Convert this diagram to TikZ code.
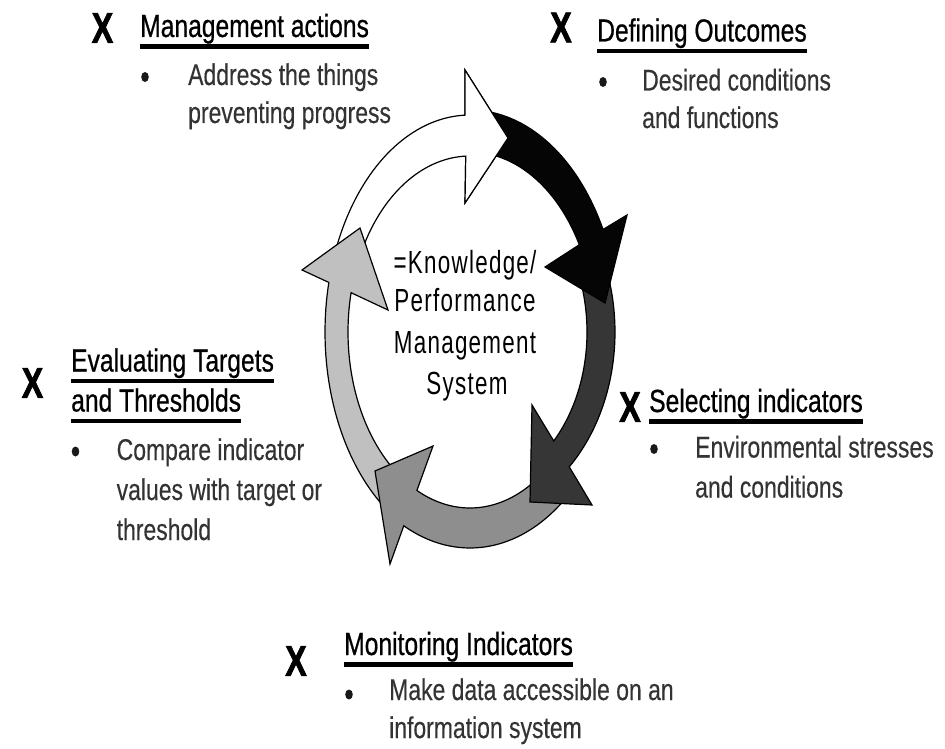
\documentclass[tikz,border=0pt]{standalone}
\usepackage{fontspec}
\setmainfont{Liberation Sans}
\newfontfamily\headfont[FakeStretch=0.77,FakeBold=0.6]{Liberation Sans}
\newfontfamily\bodyfont[FakeStretch=0.765,FakeBold=0.3]{Liberation Sans}
\newfontfamily\ctrfont[FakeStretch=0.70,LetterSpace=4]{Liberation Sans}
\newfontfamily\xmarkfont[FakeStretch=0.75,FakeBold=1.5]{Liberation Sans Bold}
\definecolor{lightg}{HTML}{C0C0C0}
\definecolor{medg}{HTML}{8E8E8E}
\definecolor{darkg}{HTML}{363636}
\definecolor{blk}{HTML}{050505}
\definecolor{bodygrey}{HTML}{333333}
\tikzset{
  ring/.style={draw=black, line width=1.2pt, line join=miter},
  headtxt/.style={anchor=base west, inner sep=0pt, text=black, font=\headfont\fontsize{32}{32}\selectfont},
  bodytxt/.style={anchor=base west, inner sep=0pt, text=bodygrey, font=\bodyfont\fontsize{30}{30}\selectfont},
  xmark/.style={inner sep=0pt, text=black, font=\xmarkfont\fontsize{43}{43}\selectfont},
  ctrtxt/.style={anchor=base, inner sep=0pt, text=black, font=\ctrfont\fontsize{32}{32}\selectfont},
  dotfill/.style={fill=black!90, draw=none},
  uline/.style={line width=4.2pt, draw=black}
}
\begin{document}
\begin{tikzpicture}[x=1pt, y=-1pt]
\useasboundingbox[fill=white] (0,0) rectangle (945,749);

% ---- cycle arrows (drawn so each head lies over the next tail) ----
% white
\path[ring, fill=white]
  plot[domain=200:268, samples=40, variable=\t] ({470+145*cos(\t)},{332+217*sin(\t)})
  -- (465,70) -- (508,138) -- (465,203)
  -- plot[domain=268:200, samples=40, variable=\t] ({470+122*cos(\t)},{332+176*sin(\t)})
  -- cycle;
% light grey
\path[ring, fill=lightg]
  plot[domain=125:193.2, samples=40, variable=\t] ({470+145*cos(\t)},{332+217*sin(\t)})
  -- (302,270) -- (360,228) -- (388,310)
  -- plot[domain=192.9:125, samples=40, variable=\t] ({470+122*cos(\t)},{332+176*sin(\t)})
  -- cycle;
% medium grey
\path[ring, fill=medg]
  plot[domain=50:116.2, samples=40, variable=\t] ({470+150*cos(\t)},{332+216*sin(\t)})
  -- (390,564) -- (375,471) -- (433,446)
  -- plot[domain=115.8:50, samples=40, variable=\t] ({470+122*cos(\t)},{332+176*sin(\t)})
  -- cycle;
% dark grey
\path[ring, fill=darkg]
  plot[domain=-20:46.8, samples=40, variable=\t] ({470+145*cos(\t)},{332+185*sin(\t)})
  -- (592,505) -- (530,502) -- (532,405)
  -- plot[domain=44.3:-20, samples=40, variable=\t] ({470+117*cos(\t)},{332+156*sin(\t)})
  -- cycle;
% black
\path[ring, fill=blk]
  plot[domain=275:332.5, samples=40, variable=\t] ({470+150*cos(\t)},{332+222*sin(\t)})
  -- (627,215) -- (605,303) -- (545,267)
  -- plot[domain=331:275, samples=40, variable=\t] ({470+125*cos(\t)},{332+180*sin(\t)})
  -- cycle;
% white head again, over the black tail
\begin{scope}
  \clip (464,60) rectangle (520,215);
  \path[ring, fill=white]
    plot[domain=200:268, samples=40, variable=\t] ({470+145*cos(\t)},{332+217*sin(\t)})
    -- (465,70) -- (508,138) -- (465,203)
    -- plot[domain=268:200, samples=40, variable=\t] ({470+122*cos(\t)},{332+176*sin(\t)})
    -- cycle;
\end{scope}

% ---- centre text ----
\node[ctrtxt] (c1) at (465,273) {=Knowledge/};
\node[ctrtxt] (c2) at (465,311.5) {Performance};
\node[ctrtxt] (c3) at (465,353) {Management};
\node[ctrtxt] (c4) at (467,394) {System};

% ---- Management actions ----
\node[xmark] (x1) at (102.5,28) {X};
\node[headtxt] (h1) at (140,37) {Management actions};
\draw[uline] ([yshift=-9.5pt]h1.base west) -- ([yshift=-9.5pt]h1.base east);
\fill[dotfill] (145,77) ellipse [x radius=3.8pt, y radius=5pt];
\node[bodytxt] (b1a) at (188,85) {Address the things};
\node[bodytxt] (b1b) at (188,123) {preventing progress};

% ---- Defining Outcomes ----
\node[xmark] (x2) at (561,27.5) {X};
\node[headtxt] (h2) at (597,41.5) {Defining Outcomes};
\draw[uline] ([yshift=-9.5pt]h2.base west) -- ([yshift=-9.5pt]h2.base east);
\fill[dotfill] (603,82) ellipse [x radius=3.8pt, y radius=5pt];
\node[bodytxt] (b2a) at (642,90.5) {Desired conditions};
\node[bodytxt] (b2b) at (642,128) {and functions};

% ---- Evaluating Targets and Thresholds ----
\node[xmark] (x3) at (32.5,383) {X};
\node[headtxt] (h3a) at (71,371.5) {Evaluating Targets};
\draw[uline] ([yshift=-9.5pt]h3a.base west) -- ([yshift=-9.5pt]h3a.base east);
\node[headtxt] (h3b) at (71,411.5) {and Thresholds};
\draw[uline] ([yshift=-9.5pt]h3b.base west) -- ([yshift=-9.5pt]h3b.base east);
\fill[dotfill] (75.5,451.5) ellipse [x radius=3.8pt, y radius=5pt];
\node[bodytxt] (b3a) at (116.5,460) {Compare indicator};
\node[bodytxt] (b3b) at (116.5,500) {values with target or};
\node[bodytxt] (b3c) at (116.5,540) {threshold};

% ---- Selecting indicators ----
\node[xmark] (x4) at (630,407) {X};
\node[headtxt] (h4) at (649,412) {Selecting indicators};
\draw[uline] ([yshift=-9.5pt]h4.base west) -- ([yshift=-9.5pt]h4.base east);
\fill[dotfill] (654,449) ellipse [x radius=3.8pt, y radius=5pt];
\node[bodytxt] (b4a) at (695,457.5) {Environmental stresses};
\node[bodytxt] (b4b) at (695,497.5) {and conditions};

% ---- Monitoring Indicators ----
\node[xmark] (x5) at (296,661) {X};
\node[headtxt] (h5) at (344,655) {Monitoring Indicators};
\draw[uline] ([yshift=-9.5pt]h5.base west) -- ([yshift=-9.5pt]h5.base east);
\fill[dotfill] (349,694.5) ellipse [x radius=3.8pt, y radius=5pt];
\node[bodytxt] (b5a) at (389,700) {Make data accessible on an};
\node[bodytxt] (b5b) at (389,738) {information system};
\end{tikzpicture}
\end{document}
